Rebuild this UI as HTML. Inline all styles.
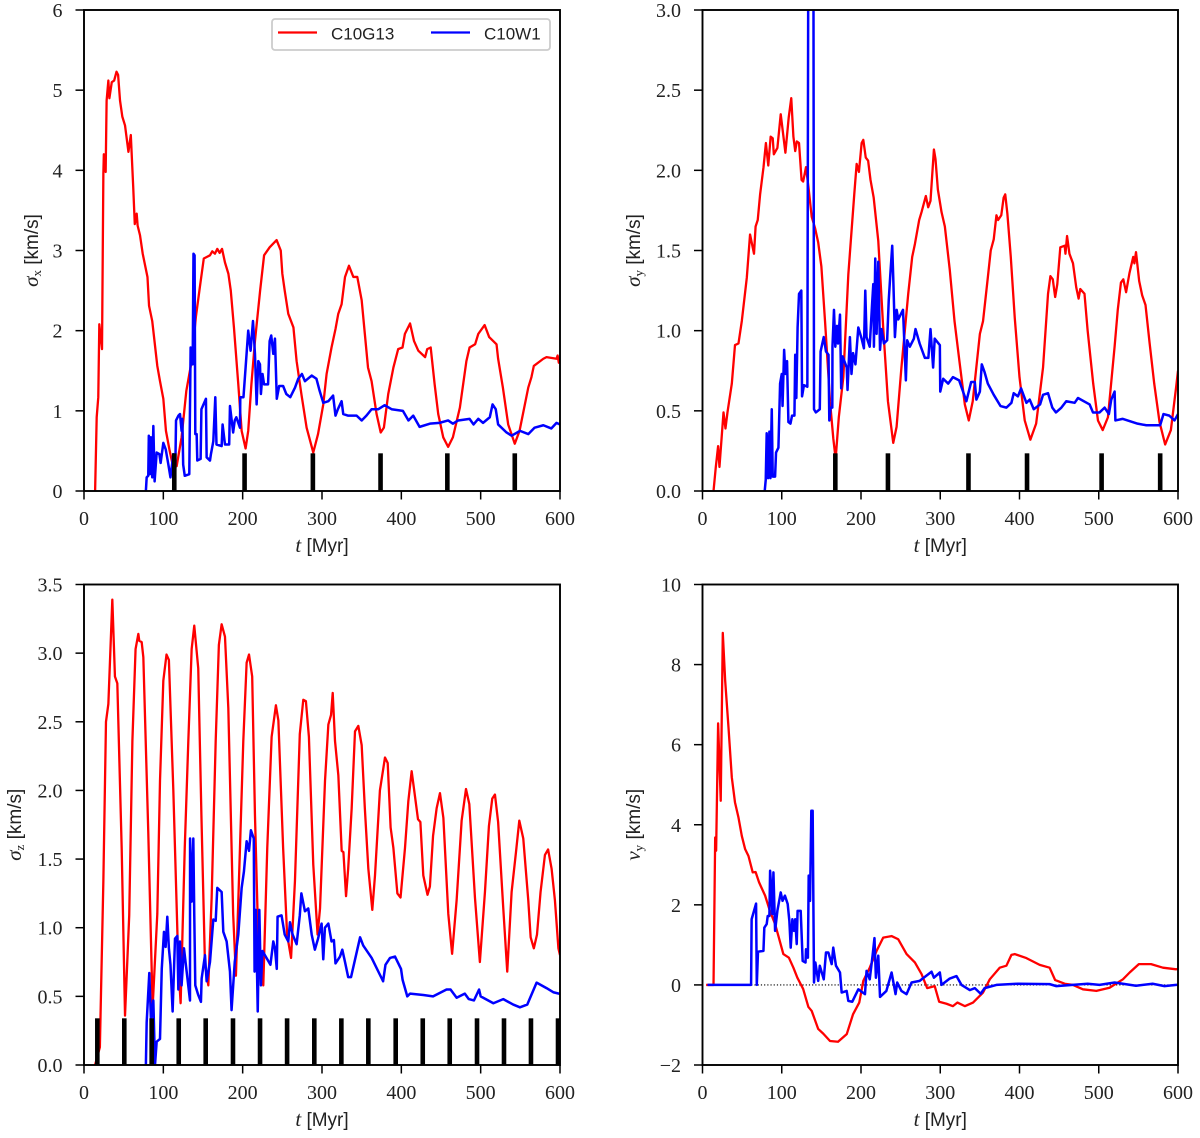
<!DOCTYPE html>
<html lang="en">
<head>
<meta charset="utf-8">
<title>Velocity dispersion and drift versus time</title>
<style>
html,body{margin:0;padding:0;background:#fff;}
#figure{display:block;width:1200px;height:1138px;}
.tick-label{font-family:"Liberation Serif",serif;font-size:20px;fill:#222;}
.axis-title{font-family:"Liberation Sans",sans-serif;font-size:19px;fill:#222;}
.math{font-family:"Liberation Serif",serif;font-style:italic;font-size:21px;}
.sub{font-family:"Liberation Serif",serif;font-size:13px;}
.legend-text{font-family:"Liberation Sans",sans-serif;font-size:17px;fill:#222;}
</style>
</head>
<body>
<svg id="figure" xmlns="http://www.w3.org/2000/svg" width="1200" height="1138" viewBox="0 0 1200 1138"></svg>
<script>
const timeTicks = [0,100,200,300,400,500,600];
const sigmaXTicks = [0,1,2,3,4,5,6];
const sigmaYTicks = [0,0.5,1,1.5,2,2.5,3];
const sigmaZTicks = [0,0.5,1,1.5,2,2.5,3,3.5];
const velocityTicks = [-2,0,2,4,6,8,10];

const sigmaXEvents = [113.8,202.4,288.5,373.8,458,543];
const sigmaYEvents = [167.6,234,335.6,409.5,503.6,577.5];
const sigmaZEvents = [16.8,50.8,85.3,119.4,153.4,187.8,221.9,256,290.3,324.4,358.4,392.9,427,461,495.4,529.4,563.4,597.5];

const sigmaXG13 = [[14,0],[16,.92],[18,1.17],[19.3,2.08],[22.7,1.77],[24.4,3.96],[25,4.2],[27.3,3.98],[28.5,4.87],[30.7,5.12],[32,4.9],[35,5.1],[38,5.12],[41,5.23],[43,5.19],[45.4,4.87],[48.3,4.67],[51.7,4.56],[56,4.23],[59,4.44],[62,3.8],[64,3.33],[66.4,3.46],[67.6,3.31],[70.6,3.19],[74,2.96],[80,2.67],[82,2.31],[86,2.12],[92.4,1.56],[95.8,1.37],[100,1.15],[103.3,.75],[108,.5],[112.6,.29],[116.8,.31],[123,.67],[129,1.25],[135.7,1.62],[141,2.17],[146,2.54],[151,2.9],[155,2.92],[158.8,2.94],[161.7,2.99],[165,2.96],[168,3.02],[171,2.97],[174,3.02],[177.7,2.85],[182,2.71],[185,2.5],[189,2.04],[194.5,1.33],[198.7,.75],[203.7,.53],[207,.75],[211,1.33],[215.5,1.87],[222,2.5],[227,2.94],[234,3.04],[242.8,3.13],[248,3],[250,2.71],[253,2.5],[257.5,2.21],[264,2.04],[268,1.62],[274,1.21],[280.6,.79],[289,.48],[295,.71],[301.6,1.08],[305.8,1.46],[312,1.79],[317,2.02],[320.5,2.21],[324.7,2.33],[329,2.67],[334,2.81],[339.5,2.67],[344.5,2.67],[350,2.38],[354,1.96],[358,1.54],[362.5,1.37],[368.8,.96],[374,.73],[378,.79],[383.5,1.21],[390,1.54],[396,1.77],[401.5,1.79],[404.5,1.96],[411,2.09],[416,1.87],[421.4,1.75],[430,1.67],[432.6,1.77],[437,1.79],[442,1.33],[446.5,.96],[452.8,.67],[459,.55],[465,.67],[473.8,1.04],[482,1.62],[486,1.79],[493,1.83],[497,1.96],[505,2.07],[510.7,1.92],[520,1.83],[522,1.65],[528,1.29],[534.7,.83],[543,.59],[549,.75],[560,1.29],[564,1.42],[567,1.56],[579,1.65],[583,1.67],[595.6,1.65],[597,1.69],[598.5,1.6],[600,1.65]];
const sigmaXW1 = [[78,0],[79,.17],[81,.19],[81.7,.69],[83,.21],[84.4,.67],[86,.17],[87.4,.81],[89,.12],[91.6,.48],[95,.46],[96.6,.35],[100,.6],[103,.52],[106,.35],[109,.17],[112.6,.46],[115,.21],[116,.88],[119,.94],[121,.96],[123,.75],[124,.9],[125,.33],[127,.19],[132.7,.21],[134.4,1.79],[137,1.58],[138,2.96],[139.4,2.94],[140.3,.71],[142,.71],[142.8,.38],[147,.4],[148,1.02],[153.7,1.15],[154.6,.42],[158.8,.38],[160,.46],[163,.62],[165.5,1.17],[167,.58],[173.5,.56],[174.7,.83],[177.7,.58],[183,.58],[184,1.06],[188,.73],[190,.88],[192,.92],[196.6,.79],[197,1.17],[201,1.17],[203.7,1.54],[207,2],[210,1.75],[213,2.12],[215.5,1.71],[217.6,1.08],[219.7,1.62],[221.8,1.58],[223,1.21],[225,1.46],[227,1.33],[232,1.33],[234,1.87],[236,1.94],[238.6,1.71],[240.7,1.9],[243,1.15],[246,1.31],[251,1.31],[255,1.21],[260,1.17],[266,1.29],[270,1.4],[274.7,1.46],[278.5,1.37],[287,1.44],[293,1.4],[297,1.25],[301.6,1.1],[308,1.12],[314,1.19],[317,.94],[320,1.02],[324.7,1.12],[326.8,.96],[333,.94],[343.6,.94],[350,.88],[356,.94],[362.5,1.02],[371,1.02],[379,1.07],[387.7,1.02],[402,1],[409,.88],[415,.94],[423,.8],[436,.84],[448,.85],[459,.88],[465,.84],[471.6,.88],[486,.9],[491,.83],[497,.9],[503,.85],[511.5,.92],[515,1.08],[519,1.02],[522,.83],[532.6,.73],[539,.69],[549.6,.75],[560,.71],[568,.79],[579,.82],[589,.78],[595.6,.85],[600,.83]];

const sigmaYG13 = [[13.9,0],[16.8,.15],[19.7,.28],[21.4,.15],[26.5,.49],[29,.39],[31.5,.49],[37,.67],[41,.91],[45.4,.92],[49.6,1.06],[55.9,1.33],[60,1.6],[65,1.48],[67,1.65],[69.7,1.69],[72.7,1.85],[77,2.02],[80,2.17],[83,2.03],[86,2.21],[88.6,2.2],[90,2.1],[94.5,2.14],[98.7,2.35],[104.6,2.11],[108.8,2.33],[112,2.45],[114.7,2.21],[117,2.12],[119,2.18],[121.8,2.17],[125,1.94],[127,1.93],[130.6,2.02],[133.6,1.9],[137.8,1.71],[142,1.64],[146,1.55],[150,1.4],[154.6,1.06],[160.9,.56],[165,.33],[168,.2],[172,.46],[177.7,.71],[184,1.35],[191.5,1.85],[194.5,2.04],[197.4,1.99],[200.8,2.17],[202.9,2.19],[206,2.08],[209,2.06],[212,1.94],[216,1.83],[221.8,1.56],[228,1.02],[234,.56],[240.7,.3],[244.9,.4],[251,.77],[259.6,1.23],[264.6,1.46],[268,1.54],[273.4,1.69],[276.4,1.74],[281.8,1.84],[284.8,1.77],[287.7,1.81],[292,2.13],[294,2.07],[297,1.88],[301.6,1.74],[305.8,1.65],[312,1.38],[318,1.06],[324.7,.79],[331,.54],[336,.44],[341,.56],[350,.98],[354,1.06],[360,1.33],[363.7,1.5],[367.5,1.57],[370.9,1.72],[373,1.69],[377,1.72],[380,1.83],[382,1.85],[384.7,1.73],[389,1.46],[394,1.08],[400,.71],[406.6,.44],[413.7,.32],[421,.42],[429.7,.77],[436,1.23],[439,1.34],[442,1.32],[445,1.21],[447.7,1.29],[451.5,1.52],[457,1.53],[458,1.48],[460,1.59],[463,1.48],[467.5,1.42],[471.6,1.27],[474.6,1.2],[476.7,1.26],[482,1.23],[486,1],[493,.67],[499,.44],[505,.38],[511.6,.46],[520,.9],[524,1.13],[528,1.3],[531,1.32],[534.5,1.24],[538.8,1.36],[543.5,1.46],[545,1.42],[547,1.49],[551,1.31],[554.8,1.22],[559,1.16],[564,.93],[570,.67],[576.7,.43],[583.8,.29],[591,.38],[597.7,.65],[600,.75]];
const sigmaYW1 = [[78.5,0],[79.8,.07],[81,.36],[82.7,.08],[84.4,.37],[85.7,.08],[87.4,.51],[88.6,.09],[91.6,.09],[92.8,.24],[95.8,.27],[97.9,.67],[100,.73],[101,.53],[103,.88],[104.6,.73],[106.7,.81],[108.4,.43],[111,.42],[113,.47],[116,.47],[117,.85],[118.4,.58],[120,1.02],[121.8,1.23],[124.7,1.25],[125.6,.59],[128,.66],[132.3,.65],[133.6,3.6],[139.9,3.6],[140.7,.51],[143,.49],[148,.51],[149,.87],[153,.96],[155.8,.87],[159,.85],[160,.44],[161.7,.52],[163.8,.52],[164,.9],[165.9,1.13],[167.6,.9],[169.7,1.03],[171,.92],[173.5,1.1],[175,.64],[176.8,.84],[182,.77],[183,.63],[186,.96],[188,.73],[190,.86],[193,.79],[196.6,1.02],[200.8,.95],[203.7,.89],[205.4,1.25],[207,.96],[211,.9],[213.8,1.15],[215.5,1.29],[216.3,.9],[218,1.45],[219.7,.98],[221.8,1.43],[224,.88],[226,1.01],[228.9,.92],[233,.94],[235,1.19],[237,1.35],[239.4,1.53],[240.7,1.33],[242.8,.96],[245,1.13],[247,1.07],[253,1.13],[256.6,.69],[258.3,.94],[261.6,.9],[266.7,.95],[268.8,1.01],[274,.92],[280.6,.83],[285,.83],[287.7,1.01],[291,.77],[293,.95],[299.5,.91],[300,.62],[303.7,.7],[310,.67],[316,.71],[323.8,.69],[333,.56],[339,.68],[343.6,.68],[345.6,.57],[350,.62],[352.4,.79],[356,.74],[360,.67],[367.5,.6],[376,.53],[383.5,.52],[389.8,.55],[392.7,.61],[398,.59],[402,.64],[408.7,.55],[412.9,.57],[418,.51],[426,.54],[429.7,.6],[436,.61],[441.4,.52],[446,.49],[452.8,.52],[459,.56],[469.6,.55],[473.8,.58],[488.5,.54],[492.7,.49],[501,.49],[507.4,.52],[512.8,.48],[515.8,.57],[520,.62],[521,.44],[530,.45],[549,.42],[560,.41],[577.5,.41],[581.7,.48],[589,.47],[595.6,.44],[600,.48]];

const sigmaZG13 = [[13.9,0],[20,.13],[24.4,1.34],[27.7,2.5],[30.7,2.63],[35.7,3.39],[39,2.83],[42,2.78],[47.5,1.58],[51.7,.36],[57,1.09],[61,2.36],[65,3.03],[68.5,3.14],[69.7,3.09],[72.7,3.08],[74.8,2.97],[81,1.7],[86.5,.42],[92.4,1.1],[95.8,2.07],[100,2.8],[104,2.99],[107,2.95],[112.6,2],[118.9,.73],[121.8,.45],[127,1.58],[131.5,2.36],[135.7,3.03],[139,3.2],[144,2.89],[148,1.82],[152.5,.73],[156.7,.58],[160.9,1.22],[166,2.36],[170,3.06],[173.5,3.21],[177.7,3.12],[181.9,2.6],[188,1.1],[191.5,.65],[196.6,1.58],[200.8,2.36],[205,2.93],[208,2.99],[212,2.83],[215.5,1.82],[220.5,.73],[226,.58],[231,1.58],[236.5,2.39],[241.9,2.62],[245,2.51],[251,1.58],[256,.95],[261,.78],[265.9,1.34],[272,2.41],[276.4,2.66],[279.7,2.65],[283.5,2.39],[289,1.46],[294.4,.95],[297.5,1.14],[303.8,2.07],[308,2.48],[311.4,2.55],[313.5,2.71],[316.4,2.36],[320.6,2.11],[324.8,1.56],[327,1.55],[330.3,1.23],[333,1.43],[337.4,1.87],[341.6,2.43],[345.8,2.47],[350,2.33],[354,1.87],[358.4,1.43],[363.4,1.13],[366.8,1.38],[373,2],[379.4,2.24],[382.8,2.2],[386.5,1.73],[390,1.58],[395,1.25],[399,1.22],[404.6,1.58],[408.8,1.92],[413,2.14],[416,2.01],[421,1.79],[424,1.77],[427.7,1.38],[433,1.24],[436,1.3],[440,1.67],[444.5,1.87],[448.7,1.98],[453,1.8],[459.2,1.1],[464,.81],[469.7,1.2],[476,1.78],[481.5,2.01],[485.7,1.9],[492.8,1.22],[499,.75],[505.4,1.26],[510.4,1.74],[514.6,1.94],[518,1.97],[522,1.77],[528.5,1.14],[533.5,.68],[539,1.26],[544.5,1.55],[548.7,1.78],[553.7,1.65],[560,1.2],[563,.93],[567,.85],[571,.95],[575.5,1.26],[581,1.53],[585,1.57],[589.4,1.43],[593.6,1.2],[598,.85],[600,.8]];
const sigmaZW1 = [[78,0],[79,.31],[82.3,.67],[84.4,.33],[87.4,.47],[89.5,0],[91.6,.17],[95.8,.19],[98,.7],[100.8,.97],[102.9,.86],[105,1.08],[107,.85],[109,.73],[111.7,.39],[114.7,.92],[117.6,.94],[118.9,.55],[121,.9],[123,.58],[126,.85],[129.4,.68],[133.6,.47],[133.7,1.65],[135.7,1.19],[137.8,1.65],[139,1.09],[140.3,.58],[144,.51],[147.4,.46],[148.3,.63],[152.5,.8],[154.6,.61],[158.8,.75],[163,1.06],[166,1.05],[168,1.29],[173.5,1.26],[175.6,.97],[179.8,.9],[184,.68],[186,.4],[190,.75],[194.5,.95],[198.7,1.29],[201.6,1.41],[205,1.63],[208,1.56],[210.4,1.71],[214,1.65],[215,.68],[216.7,1.13],[219,.39],[221,1.13],[223,.58],[225,.83],[230,.78],[235,.73],[238.6,.9],[240.7,.85],[243,.7],[244,1.08],[249,1.09],[253,.95],[257.5,.9],[259.6,1.04],[263,.95],[268,.88],[272,1.09],[274,1.25],[278.5,1.12],[282.7,1.14],[287,.95],[291,.84],[295,.92],[299.5,1.03],[301.6,.77],[303.7,1],[308,1.03],[312,.9],[315,.91],[317,.74],[322.7,.79],[325.6,.84],[329,.75],[333,.64],[336.6,.64],[348,.93],[352,.87],[362.6,.78],[377,.61],[380,.73],[385.7,.78],[392,.79],[399.6,.7],[401.6,.62],[407.5,.5],[411,.52],[427.7,.51],[440,.5],[457,.55],[462,.55],[469.7,.49],[480,.52],[485,.48],[491.5,.47],[498,.55],[500,.5],[516,.45],[528.5,.48],[541,.44],[549.5,.42],[558.7,.44],[570.5,.6],[583,.56],[591.5,.53],[598.6,.52],[600,.52]];

const velocityG13 = [[4.6,0],[13.9,0],[16,3.68],[17.2,3.35],[19.7,6.53],[23,4.6],[25.6,8.79],[28.6,7.6],[32.8,6.43],[37,5.18],[41,4.56],[45.4,4.18],[49.6,3.72],[53.8,3.39],[58,3.22],[63.4,2.81],[67,2.82],[71.4,2.56],[79,2.23],[85,1.85],[91.6,1.52],[95.8,1.22],[102,.77],[109,.68],[114.7,.43],[119.7,.18],[127,-.1],[133.6,-.55],[137.8,-.65],[146,-1.1],[152.5,-1.22],[160.9,-1.4],[171,-1.42],[182,-1.23],[190,-.73],[197.8,-.44],[202.9,.1],[211,.43],[219.7,.85],[228,1.18],[238.6,1.22],[247,1.14],[257.5,.77],[268,.56],[276.4,.27],[283.5,-.08],[293,-.03],[298.6,-.42],[307.9,-.47],[316,-.53],[321.7,-.44],[331,-.53],[341.4,-.44],[354,-.19],[362.5,.14],[375,.43],[383.5,.48],[389.8,.75],[394,.77],[408.7,.67],[425.5,.5],[438,.43],[445,.12],[457,.03],[467.5,0],[480,-.11],[497,-.15],[513.6,-.07],[530.5,.14],[539,.31],[550.6,.52],[566,.52],[581,.43],[597.7,.39],[600,.4]];
const velocityW1 = [[6.3,0],[61.3,0],[62,1.64],[67.6,2.03],[68.5,0],[70,.83],[76.9,.85],[78,1.43],[81,1.52],[82.3,1.72],[84.4,1.72],[85.3,2.85],[87,2.35],[88.2,1.77],[89.5,2.81],[91.6,1.35],[94.5,1.85],[98.7,2.31],[101,2.1],[104,2.23],[107.5,2.02],[109.6,1.6],[111.3,.93],[113.4,1.64],[115.5,1.35],[117,1.64],[118.9,1.02],[120,1.85],[123.9,1.85],[126.4,.6],[130,.56],[130.6,.89],[133,.68],[134,2.73],[135.7,2.1],[137.3,4.35],[139,4.35],[140.7,.06],[142.4,.56],[146,.1],[148,.48],[153,.14],[155.8,.81],[158.8,.81],[163,.52],[165,.93],[168.4,.48],[173.5,.31],[175.6,-.19],[181.9,-.15],[184,-.4],[189,-.42],[196.6,-.11],[205,-.23],[207,.35],[211,.14],[214.6,.73],[217,1.17],[218.8,.18],[221.8,.73],[224,-.3],[232,-.15],[238.6,.31],[243.6,-.23],[245.7,.06],[251,-.15],[257.5,-.23],[263.8,.06],[274,.1],[289,.33],[292,.18],[299.5,.31],[301.6,0],[312,.16],[320.5,.22],[326.8,0],[337.3,-.13],[343.6,-.08],[351,-.22],[356,-.08],[370.9,0],[398,.03],[438,.02],[446.5,-.03],[486,.03],[501,0],[520,.06],[547,-.02],[568,.03],[583,-.03],[597.7,0],[600,0]];

const SVG_NS = 'http://www.w3.org/2000/svg';
const figure = document.getElementById('figure');

function make(tag, attrs, parent) {
  const node = document.createElementNS(SVG_NS, tag);
  for (const key in attrs) node.setAttribute(key, attrs[key]);
  parent.appendChild(node);
  return node;
}

function linearScale(d0, d1, r0, r1) {
  return function (v) { return r0 + (v - d0) * (r1 - r0) / (d1 - d0); };
}

function drawPanel(cfg) {
  const xScale = linearScale(0, 600, cfg.left, cfg.right);
  const yScale = linearScale(cfg.yMin, cfg.yMax, cfg.bottom, cfg.top);

  const group = make('g', {}, figure);
  
  

  const clip = make('clipPath', { id: cfg.name + '-clip' }, group);
  make('rect', { x: cfg.left, y: cfg.top, width: cfg.right - cfg.left, height: cfg.bottom - cfg.top }, clip);

  const plot = make('g', { 'clip-path': 'url(#' + cfg.name + '-clip)' }, group);
  
  

  if (cfg.zeroLine) {
    const zero = make('line', { x1: xScale(5), x2: xScale(600), y1: yScale(0), y2: yScale(0), stroke: '#000', 'stroke-width': 1.1, 'stroke-dasharray': '1.2 2' }, plot);
    
    
  }

  const toPath = function (series) {
    return series.map(function (p, i) { return (i ? 'L' : 'M') + xScale(p[0]).toFixed(2) + ' ' + yScale(p[1]).toFixed(2); }).join('');
  };

  const redLine = make('path', { d: toPath(cfg.red), fill: 'none', stroke: '#ff0000', 'stroke-width': 2.3, 'stroke-linejoin': 'round' }, plot);
  
  

  const blueLine = make('path', { d: toPath(cfg.blue), fill: 'none', stroke: '#0000ff', 'stroke-width': 2.5, 'stroke-linejoin': 'round' }, plot);
  
  

  cfg.events.forEach(function (t) {
    const mark = make('rect', { x: xScale(t) - 2.3, y: yScale(cfg.eventHeight), width: 4.6, height: yScale(0) - yScale(cfg.eventHeight), fill: '#000' }, plot);
    
    
  });

  const frame = make('rect', { x: cfg.left, y: cfg.top, width: cfg.right - cfg.left, height: cfg.bottom - cfg.top, fill: 'none', stroke: '#000', 'stroke-width': 1.9 }, group);
  
  

  timeTicks.forEach(function (t) {
    const x = xScale(t);
    const tick = make('line', { x1: x, x2: x, y1: cfg.bottom, y2: cfg.bottom + 8.5, stroke: '#000', 'stroke-width': 1.5 }, group);
    
    
    const label = make('text', { x: x, y: cfg.bottom + 34, 'text-anchor': 'middle', class: 'tick-label' }, group);
    
    
    label.textContent = String(t);
  });

  cfg.yTicks.forEach(function (v) {
    const y = yScale(v);
    const tick = make('line', { x1: cfg.left - 8.5, x2: cfg.left, y1: y, y2: y, stroke: '#000', 'stroke-width': 1.5 }, group);
    
    
    const label = make('text', { x: cfg.left - 21.5, y: y + 7, 'text-anchor': 'end', class: 'tick-label' }, group);
    
    
    label.textContent = (v < 0 ? '\u2212' + Math.abs(v) : (cfg.yDecimals ? v.toFixed(cfg.yDecimals) : String(v)));
  });

  const xTitle = make('text', { x: (cfg.left + cfg.right) / 2, y: cfg.bottom + 61, 'text-anchor': 'middle', class: 'axis-title' }, group);
  
  
  const tSym = make('tspan', { class: 'math' }, xTitle);
  tSym.textContent = 't';
  make('tspan', {}, xTitle).textContent = ' [Myr]';

  const yMid = (cfg.top + cfg.bottom) / 2;
  const yTitleX = cfg.titleX;
  const yTitle = make('text', { x: yTitleX, y: yMid, 'text-anchor': 'middle', transform: 'rotate(-90 ' + yTitleX + ' ' + yMid + ')', class: 'axis-title' }, group);
  
  
  const ySym = make('tspan', { class: 'math' }, yTitle);
  ySym.textContent = cfg.symbol;
  make('tspan', { dy: 3, class: 'sub' }, yTitle).textContent = cfg.subscript;
  make('tspan', { dy: -3 }, yTitle).textContent = ' [km/s]';
}

drawPanel({ name: 'sigma-x', left: 84, right: 560, top: 10, bottom: 491, titleX: 38, yMin: 0, yMax: 6, yTicks: sigmaXTicks, yDecimals: 0, symbol: '\u03C3', subscript: 'x', red: sigmaXG13, blue: sigmaXW1, events: sigmaXEvents, eventHeight: 0.47 });
drawPanel({ name: 'sigma-y', left: 702.5, right: 1178, top: 10, bottom: 491, titleX: 640, yMin: 0, yMax: 3, yTicks: sigmaYTicks, yDecimals: 1, symbol: '\u03C3', subscript: 'y', red: sigmaYG13, blue: sigmaYW1, events: sigmaYEvents, eventHeight: 0.235 });
drawPanel({ name: 'sigma-z', left: 84, right: 560, top: 584.5, bottom: 1065, titleX: 21, yMin: 0, yMax: 3.5, yTicks: sigmaZTicks, yDecimals: 1, symbol: '\u03C3', subscript: 'z', red: sigmaZG13, blue: sigmaZW1, events: sigmaZEvents, eventHeight: 0.34 });
drawPanel({ name: 'velocity-y', left: 702.5, right: 1178, top: 584.5, bottom: 1065, titleX: 640, yMin: -2, yMax: 10, yTicks: velocityTicks, yDecimals: 0, symbol: 'v', subscript: 'y', red: velocityG13, blue: velocityW1, events: [], eventHeight: 0, zeroLine: true });

const legend = make('g', {}, figure);


const legendBox = make('rect', { x: 272, y: 19, width: 278, height: 31, rx: 3, fill: '#fff', 'fill-opacity': .9, stroke: '#cccccc', 'stroke-width': 1.8 }, legend);


const legendRed = make('line', { x1: 278, x2: 317, y1: 32.5, y2: 32.5, stroke: '#ff0000', 'stroke-width': 2.3 }, legend);


const legendRedText = make('text', { x: 331, y: 39.3, class: 'legend-text' }, legend);


legendRedText.textContent = 'C10G13';
const legendBlue = make('line', { x1: 431, x2: 470, y1: 32.5, y2: 32.5, stroke: '#0000ff', 'stroke-width': 2.3 }, legend);


const legendBlueText = make('text', { x: 484, y: 39.3, class: 'legend-text' }, legend);


legendBlueText.textContent = 'C10W1';
</script>
</body>
</html>
